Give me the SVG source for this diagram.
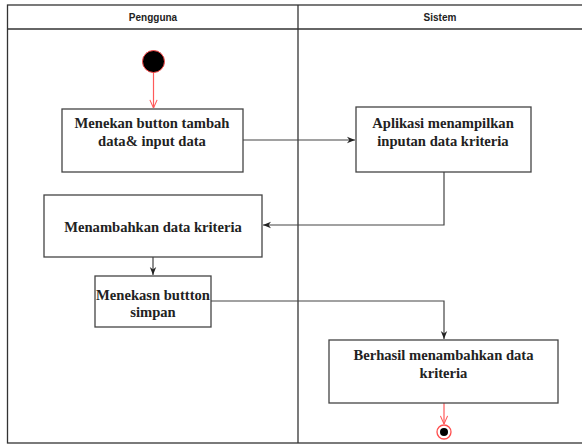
<svg xmlns="http://www.w3.org/2000/svg" width="582" height="444" viewBox="0 0 582 444">
<style>
.frame{fill:none;stroke:#333;stroke-width:1.3}
.box{fill:#fff;stroke:#444;stroke-width:1.3}
.t{font-family:"Liberation Serif",serif;font-weight:bold;font-size:14.6px;fill:#222;text-anchor:middle}
.h{font-family:"Liberation Sans",sans-serif;font-weight:bold;font-size:10px;fill:#222;text-anchor:middle}
.c{fill:none;stroke:#444;stroke-width:1.2}
.r{fill:none;stroke:#ff5a5a;stroke-width:1.2}
</style>
<defs>
<marker id="ab" viewBox="0 0 10 10" refX="10" refY="5" markerWidth="8" markerHeight="8" orient="auto" markerUnits="userSpaceOnUse"><path d="M0,1 L10,5 L0,9 L3,5 Z" fill="#222"/></marker>
<marker id="ar" viewBox="0 0 10 10" refX="10" refY="5" markerWidth="9" markerHeight="9" orient="auto" markerUnits="userSpaceOnUse"><path d="M1,1 L10,5 L1,9" fill="none" stroke="#ff5a5a" stroke-width="1.2"/></marker>
</defs>
<g id="lanes">
<rect class="frame" x="7.5" y="5" width="580" height="438" stroke="#555"/>
<line class="frame" x1="7.5" y1="29" x2="582" y2="29"/>
<line class="frame" x1="298" y1="5" x2="298" y2="443"/>
<text class="h" x="153" y="20.5">Pengguna</text>
<text class="h" x="440" y="20.5">Sistem</text>
</g>
<g id="connectors">
<line class="r" x1="153.5" y1="72" x2="153.5" y2="108" marker-end="url(#ar)"/>
<polyline class="c" points="243,140 355,140" marker-end="url(#ab)"/>
<polyline class="c" points="444,172 444,225 263,225" marker-end="url(#ab)"/>
<polyline class="c" points="153,257 153,275" marker-end="url(#ab)"/>
<polyline class="c" points="211,301 444,301 444,339" marker-end="url(#ab)"/>
<line class="r" x1="444" y1="403" x2="444" y2="424" marker-end="url(#ar)"/>
</g>
<g id="start"><circle cx="153.5" cy="61.5" r="11" fill="#000" stroke="#ff4d4d" stroke-width="1"/></g>
<g id="n1"><rect class="box" x="62" y="109" width="181" height="63"/>
<text class="t" x="152" y="128">Menekan button tambah</text><text class="t" x="152" y="146">data&amp; input data</text></g>
<g id="n2"><rect class="box" x="356" y="107" width="175" height="65"/>
<text class="t" x="443" y="128">Aplikasi menampilkan</text><text class="t" x="443" y="146">inputan data kriteria</text></g>
<g id="n3"><rect class="box" x="44" y="195" width="218" height="62"/>
<text class="t" x="153" y="232">Menambahkan data kriteria</text></g>
<g id="n4"><rect class="box" x="95" y="276" width="116" height="51"/>
<text class="t" x="153" y="300">Menekasn buttton</text><text class="t" x="153" y="317">simpan</text></g>
<g id="n5"><rect class="box" x="329" y="340" width="229" height="63"/>
<text class="t" x="443.5" y="360">Berhasil menambahkan data</text><text class="t" x="443.5" y="378">kriteria</text></g>
<g id="end"><circle cx="444" cy="432" r="7" fill="#fff" stroke="#ff4d4d" stroke-width="1.3"/><circle cx="444" cy="432" r="4" fill="#000"/></g>
</svg>
